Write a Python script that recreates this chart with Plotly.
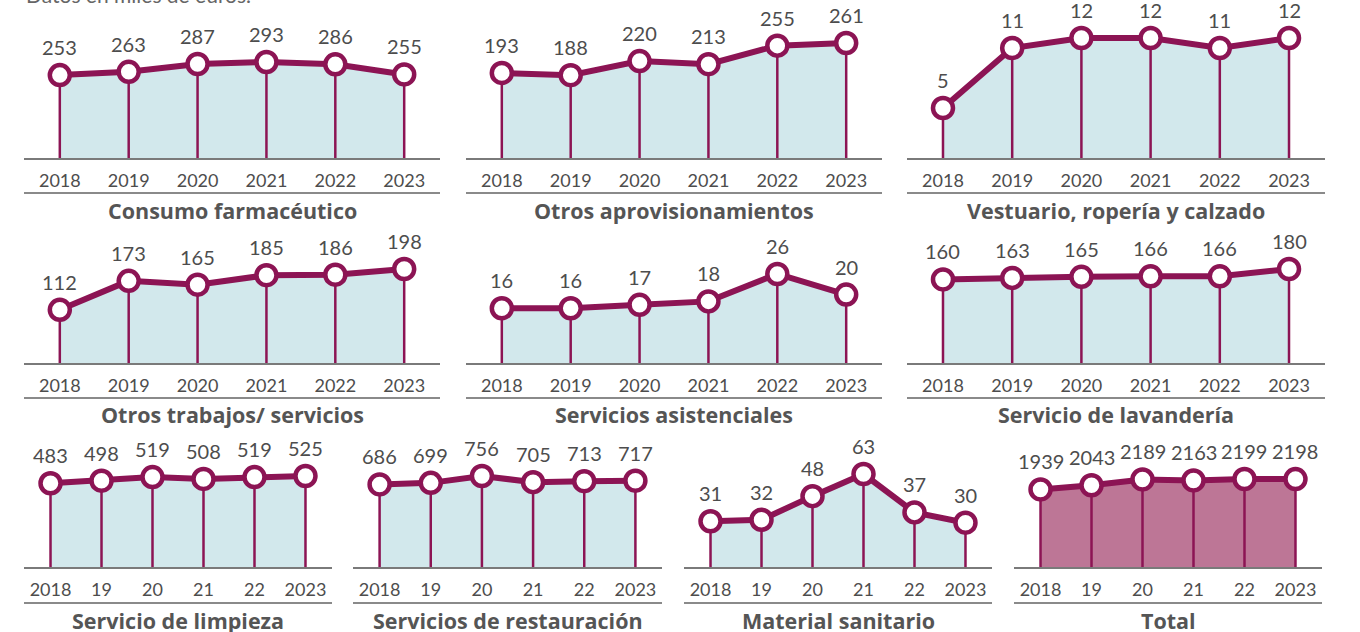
import plotly.graph_objects as go

# ---- data (miles de euros) ----
years = [2018, 2019, 2020, 2021, 2022, 2023]
labels_full = ["2018", "2019", "2020", "2021", "2022", "2023"]
labels_short = ["2018", "19", "20", "21", "22", "2023"]

consumo_farmaceutico = [253, 263, 287, 293, 286, 255]
otros_aprovisionamientos = [193, 188, 220, 213, 255, 261]
vestuario = [5, 11, 12, 12, 11, 12]
otros_trabajos = [112, 173, 165, 185, 186, 198]
servicios_asistenciales = [16, 16, 17, 18, 26, 20]
lavanderia = [160, 163, 165, 166, 166, 180]
limpieza = [483, 498, 519, 508, 519, 525]
restauracion = [686, 699, 756, 705, 713, 717]
material_sanitario = [31, 32, 48, 63, 37, 30]
total = [1939, 2043, 2189, 2163, 2199, 2198]

W, H = 1360, 632
MAGENTA = "#8c1454"
BLUE_FILL = "#d2e8ec"
TOTAL_FILL = "#bd7696"
TXT = "#4d4d4d"
FONT = "Lato"
TITLE_FONT = "Open Sans"

# row geometry in window pixels: baseline, top of plot, underline y, title y
rows = {
    1: dict(base=158, top=20, under=193, title=210),
    2: dict(base=363, top=225, under=398, title=415),
    3: dict(base=567, top=435, under=603, title=620),
}
# title, values, tick labels, fill, left px, right px, row, y px of the highest point
panels = [
    ("Consumo farmacéutico", consumo_farmaceutico, labels_full, BLUE_FILL, 24, 440, 1, 62),
    ("Otros aprovisionamientos", otros_aprovisionamientos, labels_full, BLUE_FILL, 466, 882, 1, 43),
    ("Vestuario, ropería y calzado", vestuario, labels_full, BLUE_FILL, 907, 1325, 1, 38),
    ("Otros trabajos/ servicios", otros_trabajos, labels_full, BLUE_FILL, 24, 440, 2, 269),
    ("Servicios asistenciales", servicios_asistenciales, labels_full, BLUE_FILL, 466, 882, 2, 274),
    ("Servicio de lavandería", lavanderia, labels_full, BLUE_FILL, 907, 1325, 2, 269),
    ("Servicio de limpieza", limpieza, labels_short, BLUE_FILL, 24, 332, 3, 476),
    ("Servicios de restauración", restauracion, labels_short, BLUE_FILL, 353, 662, 3, 476),
    ("Material sanitario", material_sanitario, labels_short, BLUE_FILL, 684, 992, 3, 474),
    ("Total", total, labels_short, TOTAL_FILL, 1014, 1322, 3, 479),
]


def px_x(p):
    return p / W


def px_y(p):
    return 1 - p / H


fig = go.Figure()
annotations = []
shapes = []

for i, (title, vals, ticklab, fillc, x0, x1, row, peak) in enumerate(panels, start=1):
    r = rows[row]
    xa = "x" if i == 1 else f"x{i}"
    ya = "y" if i == 1 else f"y{i}"

    # area
    fig.add_trace(go.Scatter(x=years, y=vals, mode="lines", fill="tozeroy",
                             fillcolor=fillc, line=dict(width=0), hoverinfo="skip",
                             xaxis=xa, yaxis=ya, showlegend=False))
    # drop lines
    dx, dy = [], []
    for yr, v in zip(years, vals):
        dx += [yr, yr, None]
        dy += [0, v, None]
    fig.add_trace(go.Scatter(x=dx, y=dy, mode="lines", line=dict(color=MAGENTA, width=2.5),
                             hoverinfo="skip", xaxis=xa, yaxis=ya, showlegend=False))
    # line + markers
    fig.add_trace(go.Scatter(x=years, y=vals, mode="lines+markers",
                             line=dict(color=MAGENTA, width=6),
                             marker=dict(size=20, color="white", line=dict(color=MAGENTA, width=4.5)),
                             xaxis=xa, yaxis=ya, showlegend=False))
    for yr, v in zip(years, vals):
        annotations.append(dict(x=yr, y=v, xref=xa, yref=ya, text=str(v), showarrow=False,
                                yshift=28, font=dict(family=FONT, size=20, color=TXT)))

    vmax = max(vals)
    rng = vmax * (r["base"] - r["top"]) / (r["base"] - peak)
    fig.layout[f"xaxis{'' if i == 1 else i}"] = dict(
        domain=[px_x(x0), px_x(x1)], anchor=ya, range=[2017.48, 2023.52],
        tickvals=years, ticktext=ticklab, showgrid=False, zeroline=False,
        showline=True, linecolor="#7a7a7a", linewidth=1.5, ticks="",
        tickfont=dict(family=FONT, size=18, color=TXT), ticklabelstandoff=6,
        fixedrange=True)
    fig.layout[f"yaxis{'' if i == 1 else i}"] = dict(
        domain=[px_y(r["base"]), px_y(r["top"])], anchor=xa, range=[0, rng],
        showgrid=False, zeroline=False, showticklabels=False, showline=False,
        fixedrange=True)

    shapes.append(dict(type="line", xref="paper", yref="paper",
                       x0=px_x(x0), x1=px_x(x1), y0=px_y(r["under"]), y1=px_y(r["under"]),
                       line=dict(color="#8a8a8a", width=2)))
    annotations.append(dict(x=px_x((x0 + x1) / 2), y=px_y(r["title"]), xref="paper", yref="paper",
                            text=f"<b>{title}</b>", showarrow=False, xanchor="center", yanchor="middle",
                            font=dict(family=TITLE_FONT, size=21.5, color="#555555")))

annotations.append(dict(x=px_x(24), y=px_y(9), xref="paper", yref="paper",
                        text="Datos en miles de euros.", showarrow=False,
                        xanchor="left", yanchor="bottom",
                        font=dict(family=FONT, size=21, color="#666666")))

fig.update_layout(width=W, height=H, margin=dict(l=0, r=0, t=0, b=0),
                  paper_bgcolor="white", plot_bgcolor="white",
                  annotations=annotations, shapes=shapes)

# drop the default body margin so the figure fills the window exactly
fig.write_html("out.html", config={"displayModeBar": False},
               post_script="document.body.style.margin='0';document.body.style.overflow='hidden';")
